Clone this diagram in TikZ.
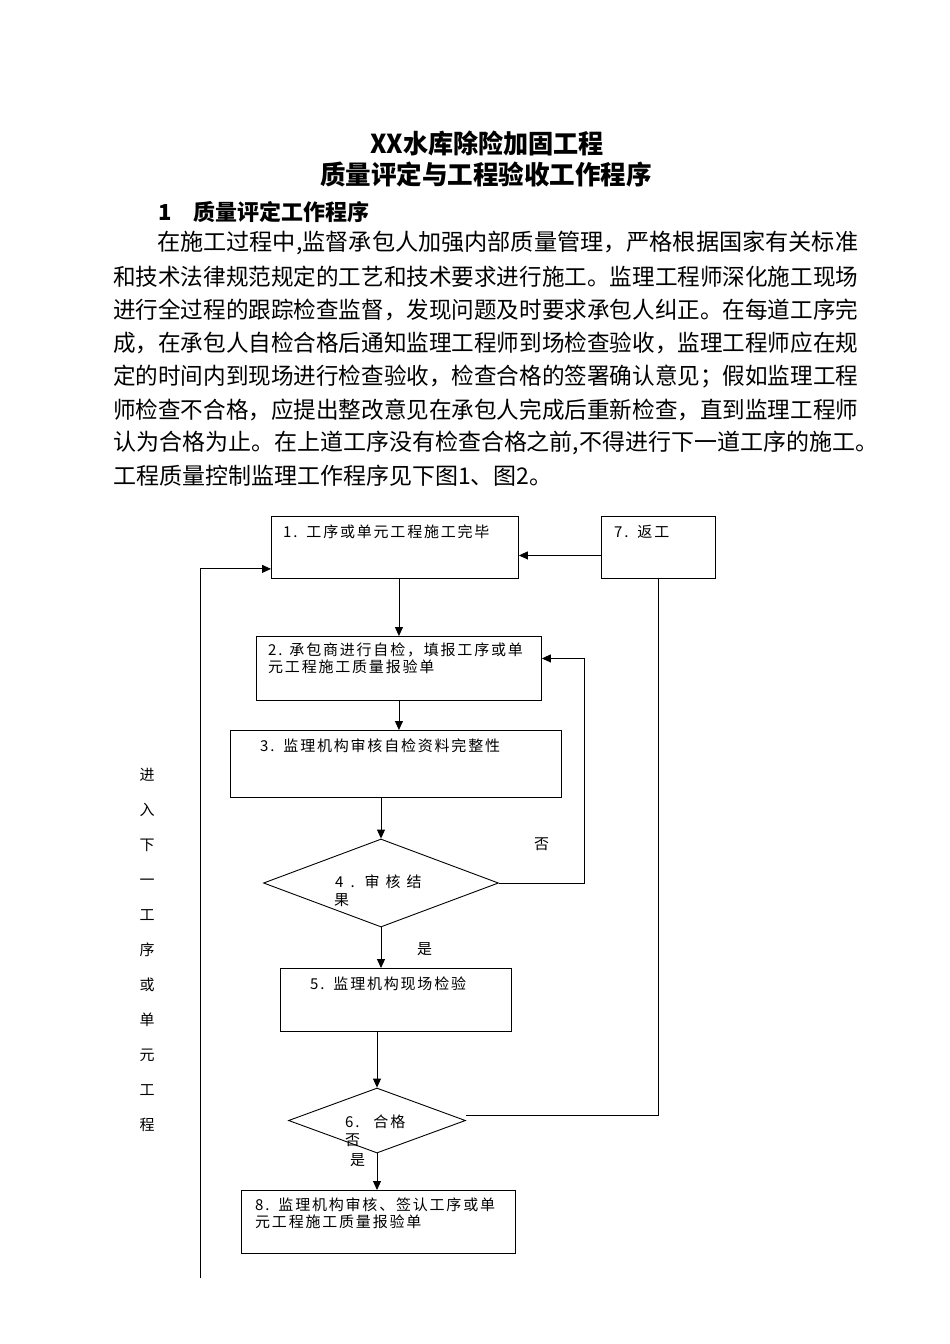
\documentclass[tikz,border=0pt]{standalone}
\usepackage{fontspec}
\usepackage{graphicx}
\setmainfont{Noto Sans CJK SC}
\newfontfamily\flowfont[LetterSpace=12]{Noto Sans CJK SC}
\usetikzlibrary{arrows.meta,shapes.geometric}
\newcommand{\fitline}[2]{\resizebox{#1}{\height}{#2}}
\tikzset{
  box/.style={draw, line width=0.9pt, anchor=north west, inner sep=0pt},
  dia/.style={draw, diamond, line width=0.9pt, inner sep=0pt},
  conn/.style={line width=0.9pt},
  arr/.style={line width=0.9pt, -{Triangle[length=9pt,width=8pt]}},
  ftext/.style={anchor=west, inner sep=0pt, font=\flowfont\fontsize{15}{17}\selectfont},
  ptext/.style={anchor=west, inner sep=0pt, font=\fontsize{23}{28}\selectfont},
  ttext/.style={inner sep=0pt, font=\bfseries\fontsize{26}{30}\selectfont},
}
\begin{document}
\begin{tikzpicture}[x=1pt,y=-1pt]
\useasboundingbox (0,0) rectangle (950,1344);
\fill[white] (0,0) rectangle (950,1344);
% titles
\node[ttext] (t1) at (487,143) {\fitline{234pt}{XX水库除险加固工程}};
\node[ttext] (t2) at (486,175) {\fitline{332pt}{质量评定与工程验收工作程序}};
\node[anchor=west, inner sep=0pt, font=\bfseries\fontsize{22}{26}\selectfont] (h1) at (158,212) {1\hspace{22pt}质量评定工作程序};
% paragraph
\node[ptext] (p1) at (157,243) {\fitline{701pt}{在施工过程中,监督承包人加强内部质量管理，严格根据国家有关标准}};
\node[ptext] (p2) at (113,276.3) {\fitline{745pt}{和技术法律规范规定的工艺和技术要求进行施工。监理工程师深化施工现场}};
\node[ptext] (p3) at (113,309.6) {\fitline{745pt}{进行全过程的跟踪检查监督，发现问题及时要求承包人纠正。在每道工序完}};
\node[ptext] (p4) at (113,342.9) {\fitline{745pt}{成，在承包人自检合格后通知监理工程师到场检查验收，监理工程师应在规}};
\node[ptext] (p5) at (113,376.2) {\fitline{745pt}{定的时间内到现场进行检查验收，检查合格的签署确认意见；假如监理工程}};
\node[ptext] (p6) at (113,409.5) {\fitline{745pt}{师检查不合格，应提出整改意见在承包人完成后重新检查，直到监理工程师}};
\node[ptext] (p7) at (113,442.8) {\fitline{765pt}{认为合格为止。在上道工序没有检查合格之前,不得进行下一道工序的施工。}};
\node[ptext] (p8) at (113,476.1) {工程质量控制监理工作程序见下图1、图2。};
% boxes
\node[box, minimum width=247pt, minimum height=62pt] (b1) at (271,516) {};
\node[box, minimum width=114pt, minimum height=62pt] (b7) at (601,516) {};
\node[box, minimum width=285pt, minimum height=64pt] (b2) at (256,636) {};
\node[box, minimum width=331pt, minimum height=67pt] (b3) at (230,730) {};
\node[dia, minimum width=235pt, minimum height=88pt] (d4) at (381,883) {};
\node[box, minimum width=231pt, minimum height=63pt] (b5) at (280,968) {};
\node[dia, minimum width=177pt, minimum height=65pt] (d6) at (377,1120.5) {};
\node[box, minimum width=274pt, minimum height=63pt] (b8) at (241,1190) {};
% box texts
\node[ftext] (x1) at (283,532) {1.\hspace{9pt}工序或单元工程施工完毕};
\node[ftext] (x7) at (614,532) {7.\hspace{9pt}返工};
\node[ftext] (x2a) at (268,650) {2.\hspace{7pt}承包商进行自检，填报工序或单};
\node[ftext] (x2b) at (268,667) {元工程施工质量报验单};
\node[ftext] (x3) at (260,746) {3.\hspace{9pt}监理机构审核自检资料完整性};
\node[ftext] (x4a) at (335,882) {4\hspace{7pt}.\hspace{10pt}审\hspace{6pt}核\hspace{6pt}结};
\node[ftext] (x4b) at (334,900) {果};
\node[ftext] (x5) at (310,984) {5.\hspace{9pt}监理机构现场检验};
\node[ftext] (x6a) at (345,1122) {6.\hspace{14pt}合格};
\node[ftext] (x6b) at (345,1140) {否};
\node[ftext] (y6) at (350,1160) {是};
\node[ftext] (n4) at (534,844) {否};
\node[ftext] (y4) at (417,949) {是};
\node[ftext] (x8a) at (255,1205) {8.\hspace{9pt}监理机构审核、签认工序或单};
\node[ftext] (x8b) at (255,1222) {元工程施工质量报验单};
% vertical text
\node[inner sep=0pt, align=center, font=\fontsize{15}{35}\selectfont] (vt) at (147,950) {进\\入\\下\\一\\工\\序\\或\\单\\元\\工\\程};
% connectors
\coordinate (L) at (200,1278);
\draw[arr] (L) |- ([yshift=10pt]b1.south west);
\draw[arr] ([yshift=-8pt]b7.west) -- ([yshift=-8pt]b1.east);
\draw[arr] (b2.north |- b1.south) -- (b2.north);
\draw[arr] (b2.south) -- (b2.south |- b3.north);
\draw[arr] (d4.north |- b3.south) -- (d4.north);
\draw[arr] (d4.east) -- ++(85,0) |- ([yshift=10pt]b2.east);
\draw[arr] (d4.south) -- (d4.south |- b5.north);
\draw[arr] (d6.north |- b5.south) -- (d6.north);
\draw[arr] (d6.south) -- (d6.south |- b8.north);
\draw[conn] (b7.south) |- ([yshift=5pt]d6.east);
\end{tikzpicture}
\end{document}
